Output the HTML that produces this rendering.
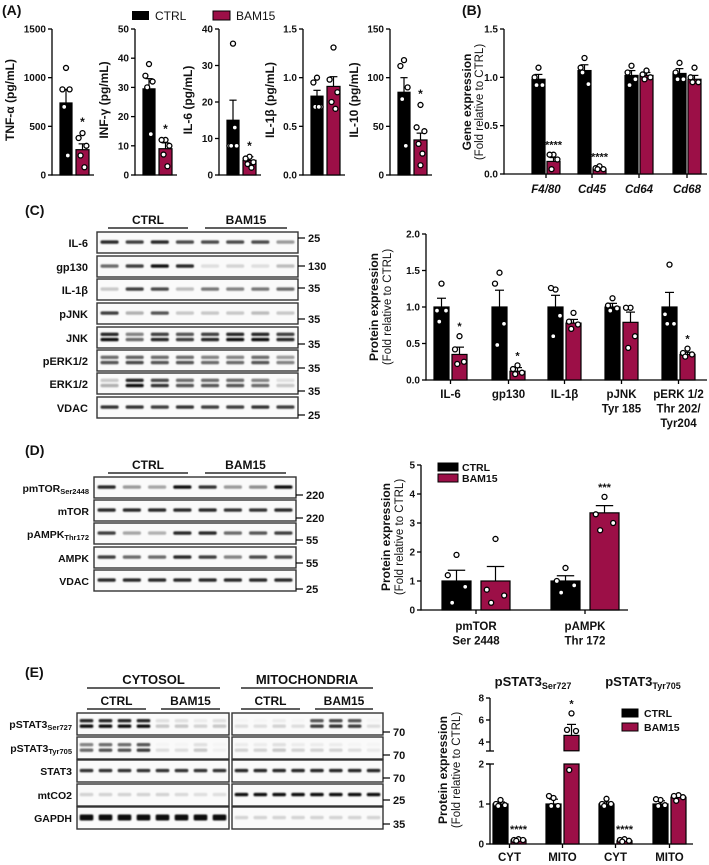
<!DOCTYPE html>
<html><head><meta charset="utf-8">
<style>
html,body{margin:0;padding:0;background:#fff;}
svg{display:block;font-family:"Liberation Sans",Arial,sans-serif;}
text{font-weight:bold;fill:#111;}
</style></head>
<body>
<svg id="fig" width="709" height="865" viewBox="0 0 709 865" xmlns="http://www.w3.org/2000/svg">
<defs><filter id="blur" x="-20%" y="-100%" width="140%" height="300%"><feGaussianBlur stdDeviation="0.7"/></filter></defs>
<text x="2" y="15" font-size="14">(A)</text>
<text x="462" y="15" font-size="14">(B)</text>
<text x="25" y="215" font-size="14">(C)</text>
<text x="25" y="455" font-size="14">(D)</text>
<text x="25" y="677" font-size="14">(E)</text>
<g>
<rect x="132" y="11" width="17" height="9" fill="#000"/>
<text x="155" y="20" font-size="12" style="font-weight:normal">CTRL</text>
<rect x="213" y="11" width="17" height="9" fill="#9c0f47" stroke="#000" stroke-width="1"/>
<text x="236" y="20" font-size="12" style="font-weight:normal">BAM15</text>
</g>
</svg>
<script>
// ---------- DATA ----------
const aTitles=["TNF-\u03b1 (pg/mL)","INF-\u03b3 (pg/mL)","IL-6 (pg/mL)","IL-1\u03b2 (pg/mL)","IL-10 (pg/mL)"];
const aMax=[1500,50,40,1.5,150];
const aTicks=[[0,500,1000,1500],[0,10,20,30,40,50],[0,10,20,30,40],[0,0.5,1.0,1.5],[0,50,100,150]];
const aTickLabels=[["0","500","1000","1500"],["0","10","20","30","40","50"],["0","10","20","30","40"],["0.0","0.5","1.0","1.5"],["0","50","100","150"]];
const aCtrlMean=[740,29.5,15,0.81,85];
const aCtrlSem=[140,3.5,5.5,0.06,15];
const aBamMean=[260,9,4,0.91,36];
const aBamSem=[60,2,1,0.1,7];
const aCtrlPts=[[1100,880,880,700,200],[38,34,32,30,14],[36,8,8,8,13],[1.0,0.95,0.7,0.7,0.7],[118,112,90,78,30]];
const aBamPts=[[430,380,300,200,80],[12,12,10,7,3],[5,4.5,3.5,3,2],[1.31,0.98,0.85,0.75,0.68],[72,49,45,32,22,10]];
const aStars=["*","*","*","","*"];

const bCats=["F4/80","Cd45","Cd64","Cd68"];
const bCtrlMean=[0.98,1.07,1.02,1.04];
const bCtrlSem=[0.05,0.06,0.05,0.05];
const bBamMean=[0.13,0.05,1.02,0.98];
const bBamSem=[0.04,0.01,0.03,0.04];
const bCtrlPts=[[1.1,1.0,0.92,0.92],[1.2,1.1,0.93,1.05],[1.12,1.05,0.98,0.92],[1.15,1.05,0.98,0.98]];
const bBamPts=[[0.2,0.2,0.15,0.05],[0.08,0.06,0.05,0.05],[1.07,1.03,1.0,0.98],[1.1,1.0,0.95,0.95]];
const bStars=["****","****","",""];
const bTicks=[0,0.5,1.0,1.5];
const bTickLabels=["0.0","0.5","1.0","1.5"];

const cCats=[["IL-6"],["gp130"],["IL-1\u03b2"],["pJNK","Tyr 185"],["pERK 1/2","Thr 202/","Tyr204"]];
const cCtrlMean=[1.0,1.0,1.0,1.0,1.0];
const cCtrlSem=[0.12,0.23,0.16,0.05,0.2];
const cBamMean=[0.35,0.12,0.78,0.79,0.35];
const cBamSem=[0.1,0.05,0.05,0.14,0.03];
const cCtrlPts=[[1.32,0.95,0.95,0.8],[1.47,1.32,0.77,0.48],[1.24,1.26,0.88,0.6],[1.12,1.02,0.98,0.95],[1.58,0.9,0.77,0.77]];
const cBamPts=[[0.6,0.42,0.25,0.22],[0.2,0.15,0.1,0.08],[0.92,0.8,0.76,0.7],[0.99,0.99,0.6,0.44],[0.43,0.37,0.35,0.32]];
const cStars=["*","*","","","*"];
const cTicks=[0,0.5,1.0,1.5,2.0];
const cTickLabels=["0.0","0.5","1.0","1.5","2.0"];

const dCats=[["pmTOR","Ser 2448"],["pAMPK","Thr 172"]];
const dCtrlMean=[1.0,1.0];
const dCtrlSem=[0.37,0.18];
const dBamMean=[1.0,3.35];
const dBamSem=[0.5,0.25];
const dCtrlPts=[[1.9,1.2,0.8,0.25],[1.45,1.0,0.85,0.6]];
const dBamPts=[[2.45,0.7,0.5,0.25],[3.9,3.3,3.0,2.75]];
const dStars=["","***"];
const dTicks=[0,1,2,3,4,5];

const eCats=["CYT","MITO","CYT","MITO"];
const eCtrlMean=[1.0,1.0,1.0,1.0];
const eCtrlSem=[0.05,0.12,0.05,0.08];
const eBamMean=[0.1,4.6,0.08,1.17];
const eBamSem=[0.02,1.0,0.03,0.05];
const eCtrlPts=[[1.1,1.0,0.97,0.95],[1.15,1.2,0.95,0.95],[1.13,1.0,1.0,0.95],[1.1,1.12,0.97,0.95]];
const eBamPts=[[0.12,0.1,0.1,0.08],[6.6,5.1,5.0,1.85],[0.12,0.1,0.08,0.06],[1.22,1.2,1.17,1.08]];
const eStars=["****","*","****",""];
const eTicks=[0,1,2,4,6,8];

const cBlotNames=["IL-6","gp130","IL-1\u03b2","pJNK","JNK","pERK1/2","ERK1/2","VDAC"];
const cBlotMW=["25","130","35","35","35","35","35","25"];
const cBlotInt=[[.9,.8,.9,.75,.75,.75,.75,.4],[.6,.8,1,.9,.1,.15,.1,.25],[.2,.8,.75,.25,.55,.5,.55,.6],[.8,.3,.7,.2,.2,.2,.25,.2],[1,.6,.9,.8,.9,1,1,.9],[.7,.75,.7,.7,.6,.6,.7,.5],[.3,1,.85,.7,.7,.7,.6,.2],[.85,.85,.8,.85,.8,.8,.85,.8]];
const cBlotDouble=[0,0,0,0,1,1,1,0];
const dBlotNames=["pmTOR|Ser2448","mTOR","pAMPK|Thr172","AMPK","VDAC"];
const dBlotMW=["220","220","55","55","25"];
const dBlotInt=[[.9,.4,.35,1,.85,.4,.45,1],[.9,.9,.9,.9,.9,.85,.85,.9],[.8,.35,.3,.9,.9,.6,.7,.8],[.8,.6,.6,.9,.8,.5,.75,.75],[.9,.9,.9,.9,.9,.9,.9,.9]];
const eBlotNames=["pSTAT3|Ser727","pSTAT3|Tyr705","STAT3","mtCO2","GAPDH"];
const eBlotMW=["70","70","70","25","35"];
const eBlotIntCyt=[[1,1,1,1,.2,.2,.15,.2],[.6,.7,.7,.8,.1,.1,.2,.02],[.85,.85,.85,.85,.85,.85,.85,.85],[.15,.15,.15,.15,.15,.12,.1,.1],[1,1,1,1,1,1,1,1]];
const eBlotIntMito=[[.1,.1,.15,.1,.8,.85,.8,.1],[.15,.15,.2,.15,.15,.15,.1,.05],[.9,.9,.9,.9,.9,.9,.9,.9],[1,1,1,1,1,1,1,1],[.15,.15,.15,.15,.15,.15,.15,.15]];

// ---------- HELPERS ----------
const NS='http://www.w3.org/2000/svg';
const svg=document.getElementById('fig');
const RED='#9c0f47';
function el(tag,attrs,parent,text){const e=document.createElementNS(NS,tag);for(const k in attrs)e.setAttribute(k,attrs[k]);if(text!=null)e.textContent=text;(parent||svg).appendChild(e);return e;}
function line(x1,y1,x2,y2,p,w){return el('line',{x1,y1,x2,y2,stroke:'#000','stroke-width':w||1.3},p);}
const JIT=[0,-0.3,0.3,-0.15,0.15,0];
function drawBar(p,x,w,v,sem,color,yf,pts,nm,y0v){
  const base=yf(y0v||0);
  const r=el('rect',{x:x,y:yf(v),width:w,height:base-yf(v),fill:color,stroke:'#000','stroke-width':1.2},p);
  
  
  const cx=x+w/2;
  const eb=line(cx,yf(v),cx,yf(v+sem),p,1.2);
  
  
  const cap=line(cx-w*0.3,yf(v+sem),cx+w*0.3,yf(v+sem),p,1.2);
  
  
  pts.forEach((pv,i)=>{
    const c=el('circle',{cx:cx+JIT[i%6]*w,cy:yf(pv),r:2.5,fill:'#fff',stroke:'#000','stroke-width':1.3},p);
    
    
  });
  return Math.min(yf(v+sem),...pts.map(yf));
}
function yTitle(p,x,y,t1,t2,fs,gap){
  const gp=gap||13;
  const t=el('text',{x:x,y:y,'text-anchor':'middle','font-size':fs||11,transform:`rotate(-90 ${x} ${y})`},p,t1);
  
  
  if(t2){const s=el('text',{x:x+gp,y:y,'text-anchor':'middle','font-size':(fs||11)-0.5,style:'font-weight:normal',transform:`rotate(-90 ${x+gp} ${y})`},p,t2);
  
  }
}
function yAxis(p,ax,yf,ticks,labels,topv){
  const a=line(ax,yf(0)+0.6,ax,yf(topv),p);
  
  
  ticks.forEach((tv,i)=>{
    line(ax-4,yf(tv),ax,yf(tv),p);
    const t=el('text',{x:ax-6,y:yf(tv)+3.5,'text-anchor':'end','font-size':10},p,labels[i]);
    
    
  });
}

// ---------- PANEL A ----------
const gA=el('g',{});


const aAx=[52,135,219,303,390];
const aTitleOff=[38,27,27,29,32];
aTitles.forEach((title,k)=>{
  const ax=aAx[k];
  const yf=v=>175-v/aMax[k]*146;
  const g=el('g',{},gA);
  
  
  yAxis(g,ax,yf,aTicks[k],aTickLabels[k],aMax[k]);
  const xa=line(ax,175,ax+42,175,g);
  
  
  yTitle(g,ax-aTitleOff[k],100,title,null,12);
  drawBar(g,ax+8,12,aCtrlMean[k],aCtrlSem[k],'#000',yf,aCtrlPts[k],'ctrl');
  const top=drawBar(g,ax+24,13,aBamMean[k],aBamSem[k],RED,yf,aBamPts[k],'bam15');
  if(aStars[k]){const s=el('text',{x:ax+30.5,y:top-7,'text-anchor':'middle','font-size':12},g,aStars[k]);
  
  }
});

// ---------- GENERIC GROUPED ----------
function grouped(name,ax,xEnd,yf,ticks,labels,topv,gx,bw,off,cm,cs,bm,bs,cp,bp,stars,cats,labY){
  const g=el('g',{});
  
  
  yAxis(g,ax,yf,ticks,labels,topv);
  const xa=line(ax,yf(0),xEnd,yf(0),g);
  
  
  cats.forEach((c,i)=>{
    const x=gx[i];
    drawBar(g,x,bw,cm[i],cs[i],'#000',yf,cp[i],'ctrl');
    const top=drawBar(g,x+off,bw,bm[i],bs[i],RED,yf,bp[i],'bam15');
    const cx=x+(off+bw)/2;
    line(cx,yf(0),cx,yf(0)+4,g);
    if(stars[i]){const s=el('text',{x:x+off+bw/2,y:top-6,'text-anchor':'middle','font-size':11},g,stars[i]);
    
    }
    const lines=Array.isArray(c)?c:[c];
    lines.forEach((ln,j)=>{const t=el('text',{x:cx,y:labY+j*14.5,'text-anchor':'middle','font-size':11.5},g,ln);
    
    
    if(name==='panel-b-gene-expression')t.setAttribute('font-style','italic');});
  });
  return g;
}

// B
const yB=v=>174-v/1.5*145;
grouped('panel-b-gene-expression',504,707,yB,bTicks,bTickLabels,1.5,[532,578,625,673],13,15,bCtrlMean,bCtrlSem,bBamMean,bBamSem,bCtrlPts,bBamPts,bStars,bCats,193);
yTitle(svg,471,102,'Gene expression','(Fold relative to CTRL)',12,12);

// C chart
const yC=v=>380-v/2*146;
grouped('panel-c-protein-chart',426,707,yC,cTicks,cTickLabels,2,[434,492,548,605,662],15,18,cCtrlMean,cCtrlSem,cBamMean,cBamSem,cCtrlPts,cBamPts,cStars,cCats,398);
yTitle(svg,378,307,'Protein expression','(Fold relative to CTRL)',12);

// D chart
const yD=v=>610-v/5*145;
grouped('panel-d-protein-chart',421,628,yD,dTicks,dTicks.map(String),5,[442,551],29,39,dCtrlMean,dCtrlSem,dBamMean,dBamSem,dCtrlPts,dBamPts,dStars,dCats,630);
yTitle(svg,390,537,'Protein expression','(Fold relative to CTRL)',12);
[['#000','CTRL',467],[RED,'BAM15',478]].forEach(([c,t,y])=>{
  const r=el('rect',{x:438,y:y-4,width:20,height:8,fill:c,stroke:'#000','stroke-width':1});
  
  
  const tx=el('text',{x:462,y:y+4,'font-size':10.5},svg,t);
  
  
});

// E chart (broken axis)
function yE(v){return v<=2?844-v*40:(v>=3.2?742-(v-4)*11:751);}
(function(){
  const g=el('g',{});
  
  
  const ax=490;
  const a1=line(ax,844.6,ax,764,g);
  const a2=line(ax,751,ax,698,g);
  line(ax-4,751,ax+4,751,g);line(ax-4,764,ax+4,764,g);
  eTicks.forEach(tv=>{line(ax-4,yE(tv),ax,yE(tv),g);
    const t=el('text',{x:ax-6,y:yE(tv)+3.5,'text-anchor':'end','font-size':10},g,String(tv));
    
    });
  const xa=line(ax,844,693,844,g);
  
  
  const gx=[493,546,599,653];
  eCats.forEach((c,i)=>{
    const x=gx[i];
    drawBar(g,x,15,eCtrlMean[i],eCtrlSem[i],'#000',yE,eCtrlPts[i],'ctrl');
    let top;
    if(eBamMean[i]>2){
      const lo=el('rect',{x:x+18,y:yE(2),width:15,height:844-yE(2),fill:RED,stroke:'#000','stroke-width':1.2},g);
      
      
      top=drawBar(g,x+18,15,eBamMean[i],eBamSem[i],RED,yE,eBamPts[i],'bam15',3.2);
    } else top=drawBar(g,x+18,15,eBamMean[i],eBamSem[i],RED,yE,eBamPts[i],'bam15');
    const cx=x+16.5;
    line(cx,844,cx,848,g);
    if(eStars[i]){const s=el('text',{x:x+25.5,y:top-6,'text-anchor':'middle','font-size':11},g,eStars[i]);
    
    }
    const t=el('text',{x:cx,y:861,'text-anchor':'middle','font-size':11.5},g,c);
    
    
  });
  [['#000','CTRL',713],[RED,'BAM15',727]].forEach(([c,t,y])=>{
    const r=el('rect',{x:622,y:y-4,width:16,height:8,fill:c,stroke:'#000','stroke-width':1},g);
    
    
    const tx=el('text',{x:644,y:y+4,'font-size':10.5},g,t);
    
    
  });
  [['pSTAT3','Ser727',533],['pSTAT3','Tyr705',643]].forEach(([a,b,x])=>{
    const t=el('text',{x:x,y:686,'text-anchor':'middle','font-size':13},g);
    
    
    el('tspan',{},t,a);el('tspan',{'font-size':9,dy:3},t,b);
  });
})();
yTitle(svg,447,770,'Protein expression','(Fold relative to CTRL)',12);

// ---------- BLOTS ----------
function label(p,x,y,txt,fs){
  const t=el('text',{x:x,y:y,'text-anchor':'end','font-size':fs||11},p);
  
  
  const parts=txt.split('|');
  el('tspan',{},t,parts[0]);
  if(parts[1])el('tspan',{'font-size':7.5,dy:2},t,parts[1]);
}
function blot(p,x,y,w,h,ints,dbl,thick){
  const b=el('rect',{x:x,y:y,width:w,height:h,fill:'#fafafa',stroke:'#333','stroke-width':1.4},p);
  
  
  const lw=w/8;
  ints.forEach((v,i)=>{
    const gray=Math.round(245-230*v);
    const bh=thick?6:3.4;
    const ys=dbl?[y+h*0.35,y+h*0.6]:[y+h*0.48];
    ys.forEach((yy,j)=>{
      const gg=Math.min(245,gray+(dbl&&j===0?25:0));
      const r=el('rect',{x:x+i*lw+lw*0.14,y:yy-bh/2,width:lw*0.72,height:bh,rx:1.5,fill:`rgb(${gg},${gg},${gg})`,filter:'url(#blur)'},p);
      
      
    });
  });
}
function mw(p,x,y,t){line(x,y,x+7,y,p,1.2);
  const m=el('text',{x:x+10,y:y+4,'font-size':11},p,t);
  
  }
function header(p,x1,x2,y,t,fs){line(x1,y,x2,y,p,1.3);
  const h=el('text',{x:(x1+x2)/2,y:y-4,'text-anchor':'middle','font-size':fs||12},p,t);
  
  }

// C blots
(function(){
  const g=el('g',{});
  
  
  header(g,108,188,228,'CTRL');header(g,205,287,228,'BAM15');
  const ys=[232,256,279,303,327,350,373,397];
  const mwy=[238,266,288,319,344,368,391,415];
  cBlotNames.forEach((n,i)=>{
    blot(g,97,ys[i],201,21,cBlotInt[i],cBlotDouble[i]);
    label(g,88,ys[i]+15,n);
    mw(g,298,mwy[i],cBlotMW[i]);
  });
})();
// D blots
(function(){
  const g=el('g',{});
  
  
  header(g,108,188,473,'CTRL');header(g,205,286,473,'BAM15');
  const ys=[477,500,523,547,570];
  const mwy=[495,518,540,563,589];
  dBlotNames.forEach((n,i)=>{
    blot(g,94,ys[i],202,21,dBlotInt[i],0);
    label(g,89,ys[i]+15,n,10.5);
    mw(g,296,mwy[i],dBlotMW[i]);
  });
})();
// E blots
(function(){
  const g=el('g',{});
  
  
  header(g,87,220,688,'CYTOSOL',13);header(g,241,373,688,'MITOCHONDRIA',13);
  header(g,87,146,709,'CTRL');header(g,161,220,709,'BAM15');
  header(g,241,300,709,'CTRL');header(g,315,373,709,'BAM15');
  const ys=[713,737,760,784,807];
  const mwy=[732,755,778,800,824];
  eBlotNames.forEach((n,i)=>{
    blot(g,77,ys[i],152,22,eBlotIntCyt[i],i<2,i===4);
    blot(g,232,ys[i],151,22,eBlotIntMito[i],i<2,false);
    label(g,72,ys[i]+15,n,10.5);
    mw(g,383,mwy[i],eBlotMW[i]);
  });
})();
</script>
</body></html>
